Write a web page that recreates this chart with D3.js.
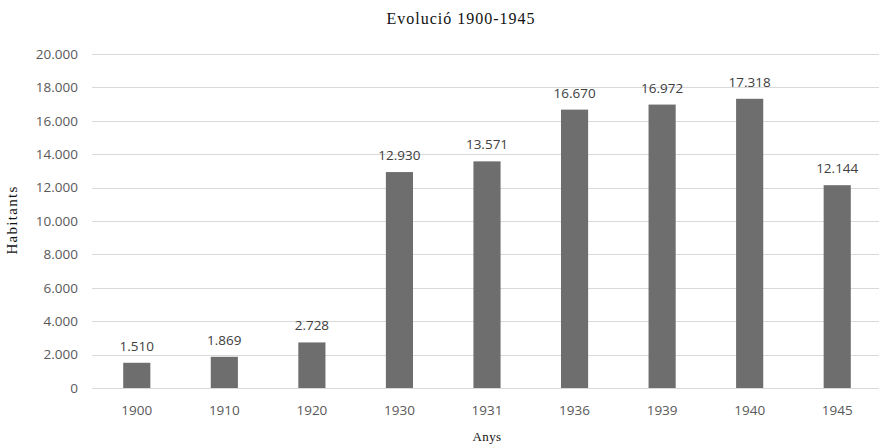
<!DOCTYPE html>
<html>
<head>
<meta charset="utf-8">
<script src="https://cdn.jsdelivr.net/npm/d3@7"></script>
<style>
  body { margin: 0; background: #fff; }
  svg { display: block; }
</style>
</head>
<body>
<div id="chart"></div>
<script>
// dades
const anys = ['1900', '1910', '1920', '1930', '1931', '1936', '1939', '1940', '1945'];
const habitants = [1510, 1869, 2728, 12930, 13571, 16670, 16972, 17318, 12144];
const yTicks = [0, 2000, 4000, 6000, 8000, 10000, 12000, 14000, 16000, 18000, 20000];

const W = 879, H = 446;
const svg = d3.select('#chart').append('svg')
  .attr('width', W)
  .attr('height', H);

const x = d3.scaleBand().domain(anys).range([93, 881]).paddingInner(0.69).paddingOuter(0.345);
const y = d3.scaleLinear().domain([0, 20000]).range([388, 54]);

// format 20.000 amb punt de milers
const fmt = d3.formatLocale({ decimal: ',', thousands: '.', grouping: [3], currency: ['', '€'] }).format(',d');

// graella
svg.append('g')
  .selectAll('line')
  .data(yTicks)
  .join('line')
  .attr('x1', 92).attr('x2', W)
  .attr('y1', d => Math.round(y(d)) + 0.5)
  .attr('y2', d => Math.round(y(d)) + 0.5)
  .attr('stroke', '#d9d9d9')
  .attr('stroke-width', 1);

// eix Y (només etiquetes)
const yAxis = svg.append('g')
  .attr('transform', 'translate(78,0)')
  .call(d3.axisLeft(y).tickValues(yTicks).tickFormat(fmt).tickSize(0).tickPadding(0));
yAxis.select('.domain').remove();
yAxis.selectAll('text')
  .attr('fill', '#595959')
  .style('font-family', '"Open Sans", sans-serif')
  .style('font-size', '13.5px');

// eix X
const xAxis = svg.append('g')
  .attr('transform', 'translate(0,' + 388 + ')')
  .call(d3.axisBottom(x).tickSize(0).tickPadding(17));
xAxis.select('.domain').remove();
xAxis.selectAll('text')
  .attr('fill', '#595959')
  .style('font-family', '"Open Sans", sans-serif')
  .style('font-size', '13.5px');

// barres
svg.append('g')
  .selectAll('rect')
  .data(habitants)
  .join('rect')
  .attr('x', (d, i) => x(anys[i]))
  .attr('width', x.bandwidth())
  .attr('y', d => y(d))
  .attr('height', d => y(0) - y(d))
  .attr('fill', '#6e6e6e');

// etiquetes de valor
svg.append('g')
  .selectAll('text')
  .data(habitants)
  .join('text')
  .attr('x', (d, i) => x(anys[i]) + x.bandwidth() / 2)
  .attr('y', d => y(d) - 12)
  .attr('text-anchor', 'middle')
  .attr('fill', '#404040')
  .style('font-family', '"Open Sans", sans-serif')
  .style('font-size', '13.5px')
  .text(d => fmt(d));

// títol
svg.append('text')
  .attr('x', 461).attr('y', 24)
  .attr('text-anchor', 'middle')
  .attr('fill', '#111')
  .style('font-family', '"Liberation Serif", serif')
  .style('font-size', '16px')
  .style('letter-spacing', '1px')
  .text('Evolució 1900-1945');

// títols dels eixos
svg.append('text')
  .attr('x', 487).attr('y', 441)
  .attr('text-anchor', 'middle')
  .attr('fill', '#111')
  .style('font-family', '"Liberation Serif", serif')
  .style('font-size', '13px')
  .style('letter-spacing', '0.4px')
  .text('Anys');

svg.append('text')
  .attr('transform', 'translate(17,220) rotate(-90)')
  .attr('text-anchor', 'middle')
  .attr('fill', '#111')
  .style('font-family', '"Liberation Serif", serif')
  .style('font-size', '15px')
  .style('letter-spacing', '1.3px')
  .text('Habitants');
</script>
</body>
</html>
